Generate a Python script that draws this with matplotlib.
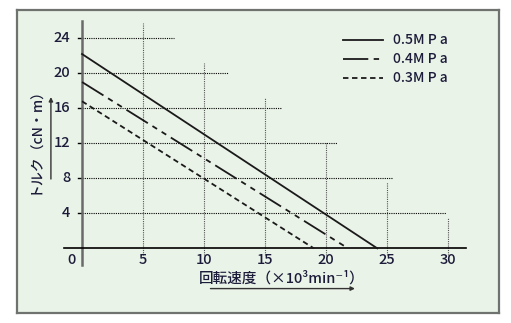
import matplotlib
matplotlib.use("Agg")
import matplotlib.pyplot as plt

# torque vs speed
pressures = ["0.5M P a", "0.4M P a", "0.3M P a"]
stall_torque = [22.2, 19.0, 16.8]     # cN.m at 0 rpm
free_speed = [24.2, 21.8, 19.0]       # x10^3 min-1 at 0 torque
x_ticks = [0, 5, 10, 15, 20, 25, 30]
y_ticks = [4, 8, 12, 16, 20, 24]

plt.rcParams['font.family'] = ['Noto Sans CJK JP', 'DejaVu Sans']
txt_col = "#1c1c3a"

fig = plt.figure(figsize=(5.11, 3.23), dpi=100)
fig.patch.set_facecolor("white")
ax = fig.add_axes([17/511, 10/323, 482/511, 303/323])
ax.set_facecolor("#eaf3e8")
ax.set_xlim(-5.33, 34.18)
ax.set_ylim(-7.39, 27.23)
ax.set_xticks([])
ax.set_yticks([])
for s in ax.spines.values():
    s.set_color("#6f736f")
    s.set_linewidth(1.6)

# staircase grid: horizontal lines stop short, vertical ones too
h_ends = [29.8, 25.4, 20.9, 16.4, 12.0, 7.5]
v_tops = [25.8, 21.2, 17.2, 12.2, 7.6, 3.5]
for yv, xe in zip(y_ticks, h_ends):
    ax.plot([0, xe], [yv, yv], color="black", lw=0.8, ls=(0, (1, 1)))
    ax.plot([-0.35, 0], [yv, yv], color="black", lw=1.0)
    ax.text(-0.95, yv, str(yv), ha="right", va="center", fontsize=10.5,
            weight="medium", color=txt_col)
for xv, yt in zip(x_ticks[1:], v_tops):
    ax.plot([xv, xv], [-0.8, yt], color="#555555", lw=0.8, ls=(0, (1, 1)))
for xv in x_ticks:
    xo = -0.9 if xv == 0 else xv
    ax.text(xo, -1.3, str(xv), ha="center", va="center", fontsize=10.5,
            weight="medium", color=txt_col)

# axes lines
ax.plot([0, 0], [-1.9, 26.0], color="#6a6a6a", lw=1.8)
ax.plot([-1.5, 31.5], [0, 0], color="black", lw=1.2)

styles = ["-", (0, (14, 3, 3, 3, 3, 3)), (0, (3, 2))]
for name, t0, n0, st in zip(pressures, stall_torque, free_speed, styles):
    ax.plot([0, n0], [t0, 0], color="#1a1a1a", lw=1.3, ls=st)

# legend drawn by hand
leg_y = [23.8, 21.6, 19.45]
for name, yy, st in zip(pressures, leg_y, styles):
    ax.plot([21.4, 24.7], [yy, yy], color="#1a1a1a", lw=1.3, ls=st)
    ax.text(25.5, yy, name, ha="left", va="center", fontsize=10,
            weight="medium", color=txt_col)

# axis titles with arrows
ax.text(-3.85, 12.7, "トルク（cN・m）", rotation=90, ha="center", va="center",
        fontsize=10, weight="medium", color=txt_col)
ax.annotate("", xy=(-2.55, 17.6), xytext=(-2.55, 7.6),
            arrowprops=dict(arrowstyle="-|>", color="#333333", lw=1.0, mutation_scale=6))
ax.text(16.4, -3.4, "回転速度（×10³min⁻¹）", ha="center", va="center",
        fontsize=10.5, weight="medium", color=txt_col)
ax.annotate("", xy=(22.6, -4.6), xytext=(10.3, -4.6),
            arrowprops=dict(arrowstyle="-|>", color="#333333", lw=1.0, mutation_scale=6))

fig.savefig("out.png", dpi=100)
